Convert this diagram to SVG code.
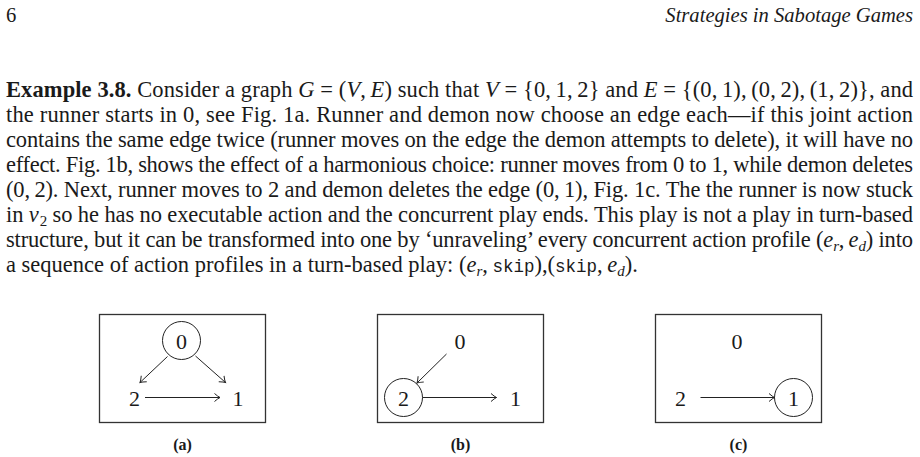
<svg xmlns="http://www.w3.org/2000/svg" width="920" height="457" viewBox="0 0 920 457">
<style>
text{font-family:"Liberation Serif","Times New Roman",serif;fill:#1a1a1a}
.body{font-size:22.5px}
.hdr{font-size:20.6px}
.i{font-style:italic}
.b{font-weight:bold}
.m{font-family:"Liberation Mono","Courier New",monospace;font-size:17.5px}
.sub{font-size:15px}
.lbl{font-size:22px;text-anchor:middle}
.cap{font-size:16px;font-weight:bold;text-anchor:middle}
.box{fill:none;stroke:#333;stroke-width:1.3}
.node{fill:none;stroke:#222;stroke-width:1}
.edge{fill:none;stroke:#222;stroke-width:1;marker-end:url(#arr)}
</style>
<defs>
<marker id="arr" markerUnits="userSpaceOnUse" markerWidth="12" markerHeight="12" viewBox="-7 -6 8 12" refX="0" refY="0" orient="auto">
<path d="M-5.5,-4 Q-2,-0.9 0,0 Q-2,0.9 -5.5,4" fill="none" stroke="#222" stroke-width="1"/>
</marker>
</defs>
<rect width="920" height="457" fill="#fff"/>
<g id="header">
<text class="hdr" x="6" y="22">6</text>
<text class="hdr i" x="913" y="22" text-anchor="end">Strategies in Sabotage Games</text>
</g>
<g id="paragraph" class="body">
<text x="6" y="97" textLength="907" lengthAdjust="spacing"><tspan class="b">Example 3.8.</tspan>  Consider a graph <tspan class="i">G</tspan> = (<tspan class="i">V</tspan>,&#8201;<tspan class="i">E</tspan>) such that <tspan class="i">V</tspan> = {0,&#8201;1,&#8201;2} and <tspan class="i">E</tspan> = {(0,&#8201;1),&#8201;(0,&#8201;2),&#8201;(1,&#8201;2)}, and</text>
<text x="6" y="122" textLength="907" lengthAdjust="spacing">the runner starts in 0, see Fig. 1a.  Runner and demon now choose an edge each—if this joint action</text>
<text x="6" y="147" textLength="907" lengthAdjust="spacing">contains the same edge twice (runner moves on the edge the demon attempts to delete), it will have no</text>
<text x="6" y="172" textLength="907" lengthAdjust="spacing">effect. Fig. 1b, shows the effect of a harmonious choice: runner moves from 0 to 1, while demon deletes</text>
<text x="6" y="197" textLength="907" lengthAdjust="spacing">(0,&#8201;2).  Next, runner moves to 2 and demon deletes the edge (0,&#8201;1), Fig. 1c.  The the runner is now stuck</text>
<text x="6" y="222" textLength="907" lengthAdjust="spacing">in <tspan class="i">v</tspan><tspan class="sub" dx="1" baseline-shift="-4">2</tspan> so he has no executable action and the concurrent play ends.  This play is not a play in turn-based</text>
<text x="6" y="247" textLength="907" lengthAdjust="spacing">structure, but it can be transformed into one by ‘unraveling’ every concurrent action profile (<tspan class="i">e</tspan><tspan class="sub i" baseline-shift="-4">r</tspan>,&#8201;<tspan class="i">e</tspan><tspan class="sub i" baseline-shift="-4">d</tspan>) into</text>
<text x="6" y="272">a sequence of action profiles in a turn-based play: (<tspan class="i">e</tspan><tspan class="sub i" baseline-shift="-4">r</tspan>,&#8201;<tspan class="m">skip</tspan>),(<tspan class="m">skip</tspan>,&#8201;<tspan class="i">e</tspan><tspan class="sub i" baseline-shift="-4">d</tspan>).</text>
</g>
<g id="fig-a">
<rect class="box" x="99.5" y="314.5" width="166" height="108"/>
<g id="a-n0"><circle class="node" cx="181.5" cy="340.5" r="19"/><text class="lbl" x="181.5" y="348.5">0</text></g>
<g id="a-n2"><text class="lbl" x="134.5" y="405.5">2</text></g>
<g id="a-n1"><text class="lbl" x="238" y="405.5">1</text></g>
<text class="cap" x="182.5" y="450">(a)</text>
</g>
<g id="fig-b">
<rect class="box" x="377.5" y="314.5" width="166" height="108"/>
<g id="b-n0"><text class="lbl" x="460" y="348.5">0</text></g>
<g id="b-n2"><circle class="node" cx="403.5" cy="397.5" r="19"/><text class="lbl" x="403.5" y="405.5">2</text></g>
<g id="b-n1"><text class="lbl" x="515.5" y="405.5">1</text></g>
<text class="cap" x="460.5" y="450">(b)</text>
</g>
<g id="fig-c">
<rect class="box" x="655.5" y="314.5" width="166" height="108"/>
<g id="c-n0"><text class="lbl" x="737" y="348.5">0</text></g>
<g id="c-n2"><text class="lbl" x="680.5" y="405.5">2</text></g>
<g id="c-n1"><circle class="node" cx="793.5" cy="397.5" r="19"/><text class="lbl" x="793.5" y="405.5">1</text></g>
<text class="cap" x="738.5" y="450">(c)</text>
</g>
<g id="connectors">
<path class="edge" d="M167.5,356.5 L140,382.5"/>
<path class="edge" d="M195.5,356 L225.5,382.5"/>
<path class="edge" d="M145,397.5 L220,397.5"/>
<path class="edge" d="M446.5,354 L417,383"/>
<path class="edge" d="M422.5,397.5 L496.5,397.5"/>
<path class="edge" d="M700.5,397.5 L774.5,397.5"/>
</g>
</svg>
